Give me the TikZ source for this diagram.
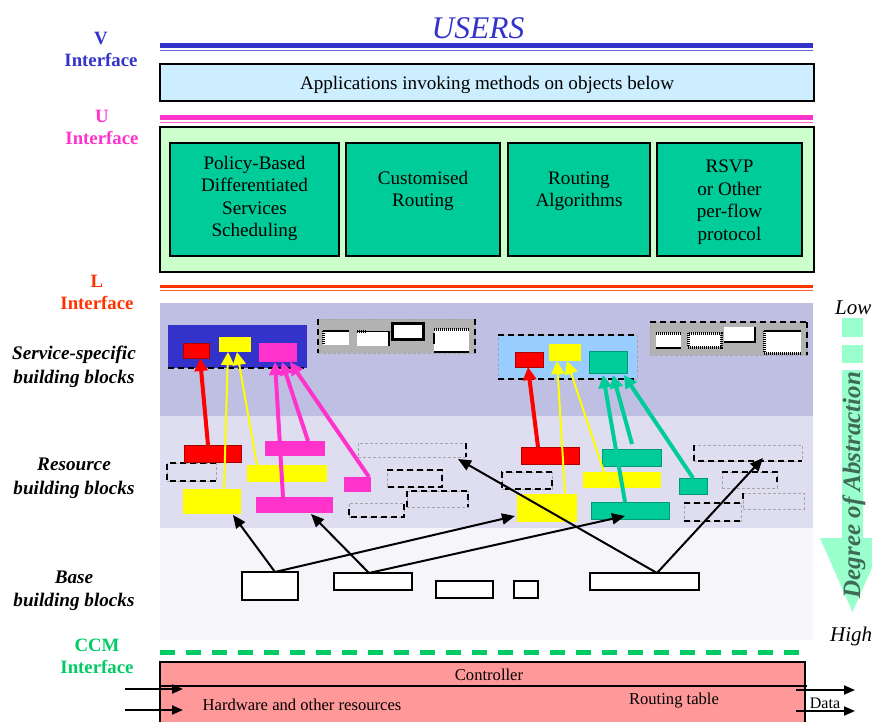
\documentclass[tikz,border=0pt]{standalone}
\usepackage{fontspec}
\setmainfont{Liberation Serif}
\usetikzlibrary{arrows.meta}

\definecolor{vblue}{HTML}{3333CC}
\definecolor{umag}{HTML}{FF33CC}
\definecolor{lred}{HTML}{FF3300}
\definecolor{ccmgreen}{HTML}{00CC66}
\definecolor{appblue}{HTML}{CCEEFF}
\definecolor{palegreen}{HTML}{CCFFCC}
\definecolor{blkteal}{HTML}{00CC99}
\definecolor{tealedge}{HTML}{00997A}
\definecolor{svcband}{HTML}{BFBFE3}
\definecolor{resband}{HTML}{DEDEF0}
\definecolor{baseband}{HTML}{F5F5FA}
\definecolor{ctrlpink}{HTML}{FF9999}
\definecolor{mint}{HTML}{99FFCC}
\definecolor{skyblk}{HTML}{99CCFF}
\definecolor{graybk}{HTML}{B2B2B2}
\definecolor{abstr}{HTML}{3D6B55}
\definecolor{yel}{HTML}{FFFF00}
\definecolor{mag}{HTML}{FF33CC}
\definecolor{rd}{HTML}{FF0000}
\definecolor{rdedge}{HTML}{AA0000}

% rectangular block given by its corners (x1,y1) (x2,y2), y growing downwards
\newcommand\mkblk[6][]{%
  \node[blkbase,#1,minimum width={(#5-#3)*1pt},minimum height={(#6-#4)*1pt}]
    (#2) at ({(#3+#5)/2},{(#4+#6)/2}) {};}

\tikzset{
  blkbase/.style={rectangle,inner sep=0pt,outer sep=0pt,anchor=center},
  iflbl/.style={font=\fontsize{18.8}{22}\selectfont\bfseries,align=center,inner sep=0pt},
  layerlbl/.style={font=\fontsize{19.2}{23.5}\selectfont\bfseries\itshape,align=center,inner sep=0pt},
  txt/.style={font=\fontsize{19.1}{22.5}\selectfont,align=center,inner sep=0pt},
  smalltxt/.style={font=\fontsize{16.6}{19}\selectfont,inner sep=0pt},
  bdash/.style={draw=black,line width=2.2pt,dash pattern=on 6pt off 4pt},
  gdash/.style={draw=gray!70,line width=0.7pt,dash pattern=on 3pt off 2pt},
  hatch/.style={draw=black,line width=3pt,dash pattern=on 1pt off 1pt},
  heavy/.style={draw=black,line width=2.5pt},
  redblk/.style={fill=rd,draw=rdedge,line width=0.8pt},
  yelblk/.style={fill=yel},
  magblk/.style={fill=mag},
  tealblk/.style={fill=blkteal,draw=tealedge,line width=0.8pt},
  whiteblk/.style={fill=white},
  redarr/.style={draw=rd,line width=4pt,-{Triangle[length=13pt,width=13pt]}},
  yelarr/.style={draw=yel,line width=2pt,-{Triangle[length=13pt,width=13pt]}},
  magarr/.style={draw=mag,line width=4pt,-{Triangle[length=13pt,width=13pt]}},
  tealarr/.style={draw=blkteal,line width=4pt,-{Triangle[length=13pt,width=13pt]}},
  blkarr/.style={draw=black,line width=2pt,-{Triangle[length=13pt,width=11pt]}},
  ioarr/.style={draw=black,line width=2pt,-{Triangle[length=11pt,width=9pt]}},
}

\begin{document}
\begin{tikzpicture}[x=1pt,y=-1pt]
\useasboundingbox (0,0) rectangle (872,722);
\fill[white] (0,0) rectangle (872,722);

% ---------- title and interfaces ----------
\node[font=\fontsize{31.5}{34}\selectfont\itshape,text=vblue,inner sep=0pt] (users) at (478,28) {USERS};

\node[iflbl,text=vblue] (vif) at (101,49) {V\\Interface};
\node[iflbl,text=umag] (uif) at (102,127) {U\\Interface};
\node[iflbl,text=lred] (lif) at (97,292) {L\\Interface};
\node[iflbl,text=ccmgreen] (ccmif) at (97,656) {CCM\\Interface};

\draw[vblue,line width=5pt] (160,45.5) -- (813,45.5);
\draw[vblue!75,line width=1pt] (160,50.5) -- (813,50.5);
\draw[umag,line width=5pt] (160,117.5) -- (813,117.5);
\draw[umag!80,line width=1pt] (160,122.5) -- (813,122.5);
\draw[lred,line width=3pt] (160,286.5) -- (813,286.5);
\draw[lred!80,line width=1pt] (160,290.5) -- (813,290.5);

% ---------- application layer ----------
\mkblk[draw=black,line width=2pt,fill=appblue]{app}{160}{64}{814}{101}
\node[txt] (apptxt) at (487,85) {Applications invoking methods on objects below};

% ---------- U layer ----------
\mkblk[draw=black,line width=2pt,fill=palegreen]{ubox}{160}{127}{814}{272}
\mkblk[draw=black,line width=1.5pt,fill=blkteal]{pbd}{170}{143}{339}{256}
\mkblk[draw=black,line width=1.5pt,fill=blkteal]{cr}{346}{143}{500}{256}
\mkblk[draw=black,line width=1.5pt,fill=blkteal]{ra}{508}{143}{650}{256}
\mkblk[draw=black,line width=1.5pt,fill=blkteal]{rsvp}{657}{143}{802}{256}
\node[txt] (pbdtxt) at (254.5,198.5) {Policy-Based\\Differentiated\\Services\\Scheduling};
\node[txt] (crtxt) at (423,191) {Customised\\Routing};
\node[txt] (ratxt) at (579,191) {Routing\\Algorithms};
\node[txt] (rsvptxt) at (729.5,202) {RSVP\\or Other\\per-flow\\protocol};

% ---------- building block bands ----------
\fill[svcband] (160,303) rectangle (813,416);
\fill[resband] (160,416) rectangle (813,528);
\fill[baseband] (160,528) rectangle (813,640);

\node[layerlbl] (svclbl) at (74,367) {Service-specific\\building blocks};
\node[layerlbl] (reslbl) at (74,478.5) {Resource\\building blocks};
\node[layerlbl] (baselbl) at (74,591) {Base\\building blocks};

% service-specific blocks, left group
\mkblk[fill=vblue]{sL}{168}{325}{307}{368}
\draw[bdash] (sL.south west) -- (sL.south east);
\mkblk[redblk]{sLr}{183}{343}{209}{358}
\mkblk[yelblk]{sLy}{219}{337}{251}{352}
\mkblk[magblk]{sLm}{259}{343}{297}{362}

% service-specific blocks, grey group 1
\mkblk[fill=graybk,gdash]{gA}{318}{319}{475}{353}
\draw[bdash] (gA.north west) -- (gA.south west);
\draw[bdash] (gA.north east) -- (gA.south east);
\mkblk[whiteblk]{gAa}{323}{331}{349}{345}
\draw[black,line width=1.2pt] (gAa.north west) -- (gAa.north east);
\draw[hatch] (gAa.north west) -- (gAa.south west);
\mkblk[whiteblk]{gAb}{357}{331}{389}{346}
\draw[hatch] (gAb.north west) -- ([xshift=10pt]gAb.north west);
\draw[heavy] (gAb.north east) -- (gAb.south east);
\draw[black,line width=1pt] (gAb.north west) -- (gAb.north east);
\mkblk[whiteblk,draw=black,line width=3pt]{gAc}{392}{323}{423}{339}
\mkblk[whiteblk]{gAd}{434}{329}{469}{352}
\draw[hatch] (gAd.north west) -- (gAd.north east);
\draw[heavy] (gAd.south west) -- (gAd.south east);
\draw[heavy] ([yshift=-4pt]gAd.north west) -- ([yshift=8pt]gAd.south west);

% service-specific blocks, right group
\mkblk[fill=skyblk,gdash]{sR}{498}{335}{637}{379}
\draw[bdash] (sR.north west) -- (sR.north east);
\draw[bdash] (sR.south west) -- (sR.south east);
\mkblk[redblk]{sRr}{515}{352}{543}{367}
\mkblk[yelblk]{sRy}{549}{344}{581}{361}
\mkblk[tealblk]{sRt}{589}{351}{627}{373}

% service-specific blocks, grey group 2
\mkblk[fill=graybk,gdash]{gB}{650}{322}{807}{355}
\draw[bdash] (gB.north west) -- (gB.north east);
\draw[bdash] (gB.north east) -- (gB.south east);
\mkblk[whiteblk]{gBa}{656}{333}{681}{348}
\draw[hatch] (gBa.north west) -- (gBa.north east);
\draw[heavy] (gBa.south west) -- (gBa.south east);
\mkblk[whiteblk]{gBb}{688}{333}{721}{347}
\draw[hatch] (gBb.north west) rectangle (gBb.south east);
\mkblk[whiteblk]{gBc}{724}{327}{755}{342}
\draw[heavy] (gBc.north east) -- (gBc.south east) -- (gBc.south west);
\mkblk[whiteblk]{gBd}{764}{331}{801}{353}
\draw[heavy] (gBd.north west) -- (gBd.north east);
\draw[hatch] (gBd.north west) -- (gBd.south west) -- (gBd.south east);

% resource blocks, left group
\mkblk[gdash]{rLd1}{167}{463}{216}{481}
\draw[bdash] (rLd1.north east) -- (rLd1.north west) -- (rLd1.south west) -- (rLd1.south east);
\mkblk[gdash]{rLg}{358}{443}{466}{457}
\draw[bdash] (rLg.north east) -- (rLg.south east);
\mkblk[gdash]{rLd2}{387}{470}{442}{487}
\draw[bdash] (rLd2.north west) -- (rLd2.north east) -- (rLd2.south east) -- (rLd2.south west);
\mkblk[gdash]{rLd3}{407}{491}{468}{507}
\draw[bdash] (rLd3.south west) -- (rLd3.north west) -- (rLd3.north east) -- (rLd3.south east);
\mkblk[gdash]{rLd4}{349}{503}{404}{517}
\draw[bdash] ([yshift=-6pt]rLd4.north west) -- (rLd4.south west) -- (rLd4.south east) -- (rLd4.north east);
\mkblk[redblk]{rLr}{184}{445}{241}{462}
\mkblk[magblk]{rLm1}{265}{441}{325}{456}
\mkblk[yelblk]{rLy1}{247}{465}{327}{482}
\mkblk[yelblk]{rLy2}{183}{489}{241}{514}
\mkblk[magblk]{rLm2}{256}{497}{333}{513}
\mkblk[magblk]{rLm3}{344}{477}{371}{492}

% resource blocks, right group
\mkblk[gdash]{rRd1}{502}{472}{552}{489}
\draw[bdash] (rRd1.north east) -- (rRd1.north west) -- (rRd1.south west) -- (rRd1.south east) -- ([yshift=-6pt]rRd1.north east);
\mkblk[gdash]{rRg}{694}{445}{802}{461}
\draw[bdash] (rRg.north west) -- (rRg.south west) -- (rRg.south east);
\mkblk[gdash]{rRd2}{722}{472}{777}{488}
\draw[bdash] (rRd2.north west) -- (rRd2.north east) -- ([yshift=6pt]rRd2.south east);
\mkblk[gdash]{rRd3}{743}{493}{804}{509}
\draw[bdash] (rRd3.north west) -- ([yshift=6pt]rRd3.south west);
\mkblk[gdash]{rRd4}{684}{503}{741}{521}
\draw[bdash] (rRd4.north west) -- (rRd4.north east);
\draw[bdash] (rRd4.south west) -- (rRd4.south east);
\mkblk[redblk]{rRr}{521}{447}{579}{464}
\mkblk[tealblk]{rRt1}{602}{449}{661}{466}
\mkblk[yelblk]{rRy1}{583}{472}{661}{488}
\mkblk[yelblk]{rRy2}{517}{494}{577}{522}
\mkblk[tealblk]{rRt2}{591}{502}{669}{519}
\mkblk[tealblk]{rRt3}{679}{478}{707}{494}

% base blocks
\mkblk[draw=black,line width=1.6pt,fill=white]{b1}{242}{572}{298}{600}
\mkblk[draw=black,line width=1.6pt,fill=white]{b2}{334}{573}{412}{590}
\mkblk[draw=black,line width=1.6pt,fill=white]{b3}{436}{581}{493}{598}
\mkblk[draw=black,line width=1.6pt,fill=white]{b4}{514}{581}{538}{598}
\mkblk[draw=black,line width=1.6pt,fill=white]{b5}{590}{573}{699}{590}

% base -> resource
\draw[blkarr] ([xshift=33pt]b1.north west) -- ([xshift=50pt,yshift=-1pt]rLy2.south west);
\draw[blkarr] ([xshift=33pt]b1.north west) -- ([xshift=-2pt,yshift=-22pt]rRy2.north west);
\draw[blkarr] ([xshift=35pt]b2.north west) -- ([xshift=55pt,yshift=-1pt]rLm2.south west);
\draw[blkarr] ([xshift=35pt]b2.north west) -- ([xshift=34pt,yshift=3pt]rRt2.south west);
\draw[blkarr] ([xshift=67pt]b5.north west) -- ([xshift=100pt,yshift=-2pt]rLg.south west);
\draw[blkarr] ([xshift=67pt]b5.north west) -- ([xshift=69pt,yshift=3pt]rRg.south west);

% resource -> service-specific, left group
\draw[redarr] ([xshift=24pt]rLr.north west) -- ([xshift=17pt]sLr.south west);
\draw[yelarr] ([xshift=41pt]rLy2.north west) -- ([xshift=9pt]sLy.south west);
\draw[yelarr] ([xshift=10pt]rLy1.north west) -- ([xshift=18pt]sLy.south west);
\draw[magarr] ([xshift=27pt]rLm2.north west) -- ([xshift=16pt]sLm.south west);
\draw[magarr] ([xshift=43pt]rLm1.north west) -- ([xshift=23pt]sLm.south west);
\draw[magarr] ([xshift=25pt]rLm3.north west) -- ([xshift=31pt]sLm.south west);

% resource -> service-specific, right group
\draw[redarr] ([xshift=17pt]rRr.north west) -- ([xshift=13pt]sRr.south west);
\draw[yelarr] ([xshift=48pt]rRy2.north west) -- ([xshift=8pt]sRy.south west);
\draw[yelarr] ([xshift=21pt]rRy1.north west) -- ([xshift=18pt]sRy.south west);
\draw[tealarr] ([xshift=34pt]rRt2.north west) -- ([xshift=14pt,yshift=-2pt]sRt.south west);
\draw[tealarr] ([xshift=30pt,yshift=5pt]rRt1.north west) -- ([xshift=24pt,yshift=-2pt]sRt.south west);
\draw[tealarr] ([xshift=14pt]rRt3.north west) -- ([xshift=35pt,yshift=-2pt]sRt.south west);

% ---------- CCM interface and controller ----------
\draw[ccmgreen,line width=5pt,dash pattern=on 15pt off 11pt] (160,652) -- (805,652);
\mkblk[draw=black,line width=1.5pt,fill=ctrlpink]{hw}{160}{662}{805}{740}
\draw[black,line width=1.5pt] (160,686) -- (807,686);
\node[smalltxt] (ctrltxt) at (489,675) {Controller};
\node[smalltxt] (hwtxt) at (302,705) {Hardware and other resources};
\node[smalltxt] (rttxt) at (674,701) {Routing table};
\node[font=\fontsize{16}{18}\selectfont,inner sep=0pt] (data) at (825,703) {Data};

\coordinate (inA) at (125,689);
\coordinate (inAe) at (183,689);
\coordinate (inB) at (125,710);
\coordinate (inBe) at (183,710);
\coordinate (outA) at (796,690);
\coordinate (outAe) at (855,690);
\coordinate (outB) at (796,711);
\coordinate (outBe) at (855,711);
\draw[ioarr] (inA) -- (inAe);
\draw[ioarr] (inB) -- (inBe);
\draw[ioarr] (outA) -- (outAe);
\draw[ioarr] (outB) -- (outBe);

% ---------- degree of abstraction ----------
\fill[mint] (842,318) rectangle (863,337);
\fill[mint] (842,345) rectangle (863,363);
\fill[mint] (842,370) -- (863,370) -- (863,538) -- (885,538) -- (852.5,612)
  -- (820,538) -- (842,538) -- cycle;
\node[rotate=90,font=\fontsize{25}{27}\selectfont\bfseries\itshape,text=abstr,inner sep=0pt] (doa) at (854,485) {Degree of Abstraction};
\node[anchor=west,font=\fontsize{21}{24}\selectfont\itshape,inner sep=0pt] (low) at (835,308) {Low};
\node[anchor=west,font=\fontsize{21}{24}\selectfont\itshape,inner sep=0pt] (high) at (830,636) {High};
\end{tikzpicture}
\end{document}
